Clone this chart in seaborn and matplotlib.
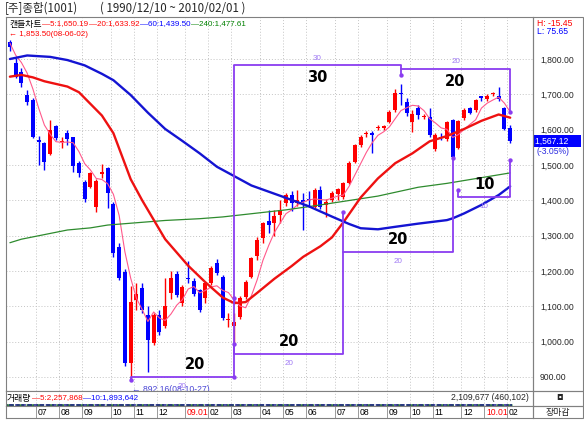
import matplotlib
matplotlib.use("Agg")
import matplotlib.pyplot as plt
import matplotlib.transforms as mtransforms
import numpy as np
import pandas as pd
import seaborn as sns

# weekly candles, week of 2008-06-02 .. week of 2010-02-01 (index 0..87)
opens = [1849, 1788, 1762, 1698, 1684, 1570, 1561, 1531, 1610, 1564,
         1591, 1578, 1505, 1453, 1439, 1382, 1475, 1492, 1389, 1269,
         1198, 939, 1118, 1151, 1076, 997, 1076, 1043, 1139, 1192,
         1109, 1180, 1173, 1146, 1123, 1165, 1224, 1182, 1060, 1045,
         1071, 1127, 1184, 1241, 1293, 1342, 1335, 1358, 1392, 1415,
         1392, 1400, 1405, 1382, 1429, 1387, 1401, 1418, 1410, 1448,
         1509, 1557, 1588, 1590, 1604, 1606, 1623, 1656, 1702, 1679,
         1623, 1660, 1635, 1637, 1544, 1578, 1573, 1627, 1547, 1632,
         1660, 1656, 1694, 1688, 1700, 1694, 1660, 1604]
highs = [1853.5, 1802, 1774, 1712, 1689, 1582, 1566, 1627, 1613, 1580,
         1599, 1580, 1510, 1458, 1481, 1460, 1503, 1495, 1395, 1280,
         1205, 1158, 1166, 1166, 1101, 1080, 1090, 1180, 1200, 1200,
         1160, 1228, 1180, 1150, 1170, 1215, 1235, 1190, 1082, 1081,
         1128, 1175, 1240, 1295, 1340, 1373, 1373, 1400, 1420, 1425,
         1430, 1420, 1425, 1435, 1440, 1405, 1425, 1436, 1452, 1510,
         1560, 1585, 1595, 1595, 1612, 1612, 1655, 1715, 1730, 1690,
         1655, 1670, 1645, 1660, 1590, 1590, 1625, 1630, 1628, 1660,
         1665, 1686, 1695, 1700, 1708, 1722, 1664, 1613]
lows = [1823, 1745, 1722, 1670, 1576, 1500, 1486, 1528, 1571, 1547,
        1557, 1481, 1467, 1396, 1434, 1368, 1462, 1377, 1240, 1175,
        930, 892.16, 1090, 1080, 915, 990, 1020, 1040, 1120, 1125,
        1100, 1165, 1130, 1085, 1110, 1160, 1190, 1060, 1042, 993,
        1065, 1120, 1180, 1230, 1280, 1308, 1300, 1335, 1385, 1370,
        1385, 1316, 1380, 1378, 1375, 1354, 1395, 1400, 1405, 1445,
        1505, 1552, 1580, 1534, 1600, 1600, 1620, 1650, 1670, 1640,
        1594, 1630, 1630, 1580, 1540, 1570, 1568, 1520, 1545, 1628,
        1645, 1650, 1680, 1682, 1695, 1680, 1598, 1563]
closes = [1833, 1750, 1731, 1679, 1580, 1566, 1509, 1599, 1576, 1568,
          1573, 1497, 1477, 1403, 1478, 1456, 1479, 1420, 1250, 1180,
          939, 1113, 1135, 1090, 1006, 1076, 1028, 1101, 1180, 1132,
          1156, 1178, 1135, 1090, 1165, 1208, 1194, 1066, 1063, 1057,
          1123, 1170, 1236, 1288, 1335, 1330, 1356, 1373, 1415, 1392,
          1401, 1396, 1401, 1429, 1382, 1396, 1420, 1431, 1448, 1505,
          1557, 1580, 1590, 1585, 1607, 1608, 1651, 1703, 1700, 1646,
          1644, 1642, 1637, 1585, 1585, 1576, 1621, 1524, 1625, 1657,
          1648, 1684, 1690, 1695, 1703, 1686, 1601, 1567.12]
ma5 = [1845, 1811, 1790, 1760, 1715, 1661, 1613, 1587, 1566, 1564,
       1565, 1563, 1538, 1504, 1486, 1462, 1459, 1447, 1417, 1357,
       1254, 1180, 1123, 1091, 1057, 1084, 1067, 1060, 1078, 1103,
       1119, 1149, 1156, 1138, 1145, 1155, 1158, 1145, 1139, 1118,
       1101, 1096, 1130, 1175, 1230, 1272, 1309, 1336, 1362, 1373,
       1387, 1395, 1401, 1404, 1402, 1401, 1406, 1412, 1415, 1440,
       1472, 1504, 1536, 1563, 1584, 1594, 1608, 1631, 1654, 1662,
       1669, 1667, 1654, 1631, 1619, 1605, 1601, 1578, 1586, 1601,
       1615, 1628, 1661, 1675, 1684, 1692, 1675, 1650.19]

# moving averages at selected weeks
ma20_wk = [0, 2, 4, 6, 10, 12, 16, 18, 21, 23, 25, 27, 31, 34, 37, 39, 41,
           43, 46, 49, 51, 54, 56, 58, 61, 64, 67, 70, 73, 76, 79, 82, 85, 87]
ma20_val = [1750, 1755, 1748, 1737, 1722, 1706, 1640, 1590, 1460, 1400,
            1345, 1290, 1215, 1168, 1125, 1109, 1112, 1138, 1178, 1214,
            1240, 1270, 1295, 1338, 1408, 1462, 1505, 1533, 1567, 1582,
            1602, 1625, 1643, 1633.92]
ma60_wk = [0, 3, 7, 10, 13, 16, 18, 21, 24, 27, 30, 33, 36, 42, 48, 52, 56,
           59, 61, 64, 67, 71, 76, 77, 79, 82, 85, 87]
ma60_val = [1800, 1810, 1806, 1797, 1782, 1758, 1740, 1698, 1648, 1602,
            1568, 1533, 1495, 1442, 1407, 1383, 1354, 1333, 1321, 1318,
            1325, 1334, 1344, 1349, 1363, 1387, 1415, 1439.50]
ma240_wk = [0, 2, 10, 14, 17, 27, 33, 37, 48, 54, 64, 71, 76, 87]
ma240_val = [1280, 1290, 1316, 1322, 1330, 1343, 1348, 1353, 1373, 1387,
             1412, 1437, 1448, 1477.61]

# month boundaries (first week of each month) and their labels
month_wk = [5, 9, 13, 18, 22, 26, 31, 35, 39, 44, 48, 52, 57, 61, 66, 70,
            74, 79, 83, 87]
month_lbl = ["07", "08", "09", "10", "11", "12", "09.01", "02", "03", "04",
             "05", "06", "07", "08", "09", "10", "11", "12", "10.01", "02"]
price_ticks = [900, 1000, 1100, 1200, 1300, 1400, 1500, 1600, 1700, 1800]

# cycle brackets: start week, end week, level, count
brackets = [(21, 39, 900, "20"), (39, 58, 965, "20"), (58, 77, 1254, "20"),
            (39, 68, 1783, "30"), (68, 87, 1772, "20"), (78, 87, 1409, "10")]
# bracket legs: week, from level, to level (the end carries a pin)
legs_wk = [39, 58, 77, 68, 87, 87, 78, 21, 39]
legs_from = [1783, 965, 1254, 1783, 1772, 1409, 1409, 900, 965]
legs_to = [900, 1367, 1520, 1755, 1650, 1514, 1430, 892, 993]

W, H = 584, 428
sns.set_style("white")
plt.rcParams["font.family"] = ["Liberation Sans", "Noto Sans CJK KR"]
fig = plt.figure(figsize=(W / 100, H / 100), dpi=100)


def box(x0, y0, x1, y1):
    return [x0 / W, 1 - y1 / H, (x1 - x0) / W, (y1 - y0) / H]


NUM = dict(family=["Liberation Sans", "Noto Sans CJK KR"], fontsize=6.2)
LEG = dict(family=["Liberation Sans", "Noto Sans CJK KR"], fontsize=5.8)
KOR = dict(family=["Noto Sans CJK KR", "Liberation Sans"], fontsize=6.4)
PURPLE = "#8a3df0"
LPURPLE = "#a07af5"
GRID = "#c4c4c4"
FRAME = "#808080"
XL = (-0.68, 90.97)


def chain(x, y, parts):
    """put text pieces one after another, y in pixels from the top"""
    r = fig.canvas.get_renderer()
    for t, c, font in parts:
        txt = fig.text(x / W, 1 - y / H, t, color=c, va="center", **font)
        x = txt.get_window_extent(renderer=r).x1 + 0.5


def frame(a):
    a.set_xticks([])
    a.set_yticks([])
    for s in a.spines.values():
        s.set_color(FRAME)
        s.set_linewidth(0.8)


ax = fig.add_axes(box(6, 17, 533, 391))
ax.set_xlim(*XL)
ax.set_ylim(860.3, 1918.9)
frame(ax)

# grid
for m in month_wk:
    ax.axvline(m - 0.5, color=GRID, lw=0.7, ls=(0, (1, 2)), zorder=0)
for p in price_ticks:
    ax.axhline(p, color=GRID, lw=0.7, ls=(0, (1, 2)), zorder=0)

# candles
df = pd.DataFrame({"o": opens, "h": highs, "l": lows, "c": closes})
df["wk"] = np.arange(len(df))
df["col"] = np.where(df.c >= df.o, "#ff0000", "#0000ff")
body = (df.c - df.o).abs().clip(lower=3)
ax.vlines(df.wk, df.l, df.h, colors=df.col, lw=1, zorder=2)
ax.bar(df.wk, body, bottom=df[["o", "c"]].min(axis=1), width=0.72,
       color=df.col, linewidth=0, zorder=3)

# moving averages
sns.lineplot(x=df.wk, y=ma5, ax=ax, color="#ff5a8c", lw=0.8, zorder=4)
sns.lineplot(x=ma240_wk, y=ma240_val, ax=ax, color="#2e8b2e", lw=0.9, zorder=4)
sns.lineplot(x=ma20_wk, y=ma20_val, ax=ax, color="#ee1111", lw=1.7, zorder=4)
sns.lineplot(x=ma60_wk, y=ma60_val, ax=ax, color="#1414d2", lw=1.7, zorder=4)

# cycle brackets
pk = dict(color=PURPLE, lw=1.3, zorder=6)
ax.vlines(legs_wk, legs_from, legs_to, **pk)
ax.scatter(legs_wk, legs_to, s=10, color=PURPLE, zorder=8, linewidths=0)
ax.scatter([39], [1123], s=10, color=PURPLE, zorder=8, linewidths=0)
bold_dx = {0: 9}
for k, (a, b, lev, n) in enumerate(brackets):
    ax.plot([a, b], [lev, lev], **pk)
    top = lev > 1700
    mid = (a + b) / 2
    ax.annotate(n, (mid, lev), xytext=(bold_dx.get(k, 0), -9 if top else 9),
                textcoords="offset points", ha="center", va="center",
                fontsize=10.5, fontweight="bold", color="black", zorder=7,
                family="DejaVu Sans")
    ax.annotate(n, (mid, lev), xytext=(0, 5 if top else -7),
                textcoords="offset points", ha="center", va="center",
                fontsize=5.8, color=LPURPLE, zorder=7)

# price axis on the right
ax.yaxis.tick_right()
ax.set_yticks(price_ticks)
ax.set_yticklabels([f"{p:,.2f}" for p in price_ticks], **NUM)
ax.tick_params(axis="y", length=0, pad=5)

ax.annotate("← 892.16(08-10-27)", (21, 892.16), xytext=(1, -7),
            textcoords="offset points", va="center", color="#4a46d6", **NUM)

# current price tag
trans = mtransforms.blended_transform_factory(ax.transAxes, ax.transData)
ax.text(1.003, closes[-1], "1,567.12     ", transform=trans, va="center",
        color="white", clip_on=False,
        bbox=dict(boxstyle="square,pad=0.15", fc="#0000ff", ec="none"), **NUM)
ax.text(1.006, closes[-1] - 30, "(-3.05%)", transform=trans, va="center",
        color="#2a2ae0", clip_on=False, **NUM)

# legend lines inside the price panel
chain(9, 24, [("캔들차트", "black", KOR), ("—5:1,650.19", "#ff0000", LEG),
              ("—20:1,633.92", "#ff0000", LEG),
              ("—60:1,439.50", "#0000ff", LEG),
              ("—240:1,477.61", "#008000", LEG)])
chain(9, 35, [("← 1,853.50(08-06-02)", "#ff0000", LEG)])

# volume strip
axv = fig.add_axes(box(6, 391, 533, 406))
axv.set_xlim(*XL)
axv.set_ylim(0, 1)
frame(axv)
for m in month_wk:
    axv.axvline(m - 0.5, color=GRID, lw=0.7, ls=(0, (1, 2)), zorder=0)
axv.plot([-0.6, 87.3], [0.04, 0.04], color="#2e8b2e", lw=1.8,
         ls=(0, (3, 1)), clip_on=False)
axv.plot([-0.6, 87.3], [0.04, 0.04], color="#1a1a8c", lw=1.1,
         ls=(2, (3, 1)), clip_on=False)
chain(7, 398, [("거래량", "black", KOR), ("—5:2,257,868", "#ff0000", LEG),
               ("—10:1,893,642", "#0000ff", LEG)])
fig.text(529 / W, 1 - 398 / H, "2,109,677 (460,102)", ha="right",
         va="center", **NUM)

# date axis strip
axd = fig.add_axes(box(6, 406, 533, 418))
axd.set_xlim(*XL)
axd.set_ylim(0, 1)
frame(axd)
for m, lb in zip(month_wk, month_lbl):
    axd.axvline(m - 0.5, color="#9a9a9a", lw=0.7)
    axd.text(m - 0.2, 0.45, lb, va="center",
             color="#ff0000" if "." in lb else "black", **NUM)

# right column boxes
for y0, y1 in [(17, 391), (391, 406), (406, 418)]:
    fig.patches.append(plt.Rectangle((533 / W, 1 - y1 / H), 50 / W,
                                     (y1 - y0) / H, transform=fig.transFigure,
                                     fill=False, ec=FRAME, lw=0.8))
fig.text(537 / W, 1 - 24 / H, "H: -15.45", color="#ff0000", va="center", **NUM)
fig.text(537 / W, 1 - 32 / H, "L: 75.65", color="#0000ff", va="center", **NUM)
fig.text(560 / W, 1 - 398 / H, "◘", ha="center", va="center", fontsize=6,
         family="DejaVu Sans")
fig.text(558 / W, 1 - 412 / H, "장마감", ha="center", va="center", **KOR)

# header
HDR = dict(family=["Noto Sans CJK KR", "Liberation Sans"], fontsize=8.3)
fig.text(5 / W, 1 - 8.5 / H, "[주]종합(1001)", va="center", **HDR)
fig.text(100 / W, 1 - 8.5 / H, "( 1990/12/10 ~ 2010/02/01 )", va="center",
         **HDR)

fig.savefig("out.png", dpi=100, facecolor="white")
